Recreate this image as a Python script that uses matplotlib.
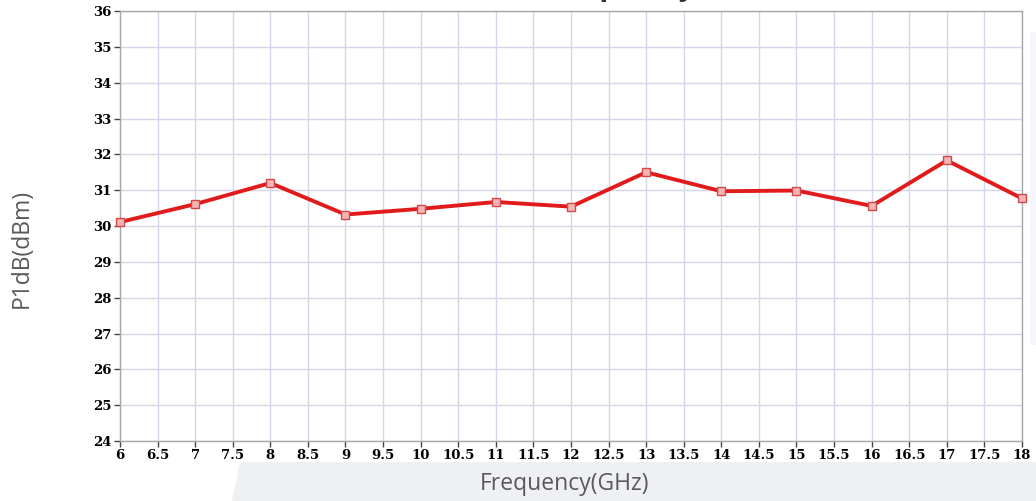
import numpy as np
import matplotlib
matplotlib.use("Agg")
import matplotlib.pyplot as plt
from matplotlib.patches import Polygon

# P1dB vs frequency
freq_ghz = [6, 7, 8, 9, 10, 11, 12, 13, 14, 15, 16, 17, 18]
p1db_dbm = [30.11, 30.61, 31.2, 30.32, 30.48, 30.67, 30.54, 31.5, 30.97, 30.99, 30.56, 31.83, 30.77]

x_ticks = np.arange(6, 18.01, 0.5)
x_labels = ["6", "6.5", "7", "7.5", "8", "8.5", "9", "9.5", "10", "10.5", "11", "11.5", "12",
            "12.5", "13", "13.5", "14", "14.5", "15", "15.5", "16", "16.5", "17", "17.5", "18"]
y_ticks = list(range(24, 37))

W, H = 1036, 501
fig = plt.figure(figsize=(W / 100, H / 100), dpi=100)
fig.patch.set_facecolor("white")

# slide background band under the chart picture
bg = fig.add_axes([0, 0, 1, 1], zorder=-5)
bg.set_xlim(0, W)
bg.set_ylim(H, 0)
bg.axis("off")
bg.add_patch(Polygon([[240, 462], [W, 462], [W, H], [232, H]], closed=True,
                     facecolor="#eef0f4", edgecolor="none"))
bg.add_patch(Polygon([[1030, 32], [W, 32], [W, 345], [1030, 345]], closed=True,
                     facecolor="#f5f6f9", edgecolor="none"))

ax = fig.add_axes([120 / W, 1 - 441 / H, (1022 - 120) / W, (441 - 11) / H])
ax.set_facecolor("white")

ax.plot(freq_ghz, p1db_dbm, color="#e11b1b", lw=2.8, marker="s", ms=6,
        mfc="#f6b4b4", mec="#d04848", mew=1.0, zorder=3, clip_on=False)

ax.set_xlim(6, 18)
ax.set_ylim(24, 36)
ax.set_xticks(x_ticks)
ax.set_xticklabels(x_labels)
ax.set_yticks(y_ticks)

ax.grid(True, color="#d6d6ea", lw=1.0)
ax.set_axisbelow(True)
for s in ax.spines.values():
    s.set_color("#a8a8a8")
    s.set_linewidth(1.0)

for lab in ax.get_xticklabels() + ax.get_yticklabels():
    lab.set_fontfamily("DejaVu Serif")
    lab.set_fontweight("bold")
    lab.set_fontsize(9.5)
ax.tick_params(axis="both", direction="out", length=4, width=1, color="#444444", pad=2)

fig.text(22 / W, 1 - 248 / H, "P1dB(dBm)", rotation=90, ha="center", va="center",
         fontsize=16.5, color="#595959", family="Open Sans")
fig.text(565 / W, 1 - 484 / H, "Frequency(GHz)", ha="center", va="center",
         fontsize=16.5, color="#595959", family="Open Sans")

# title clipped by the top edge of the picture (only descenders show)
fig.text(560 / W, 1 + 5 / H, "P1dB vs Frequency", ha="center", va="baseline",
         fontsize=21, fontweight="bold", color="#333333", family="Open Sans")

fig.savefig("out.png", dpi=100)
